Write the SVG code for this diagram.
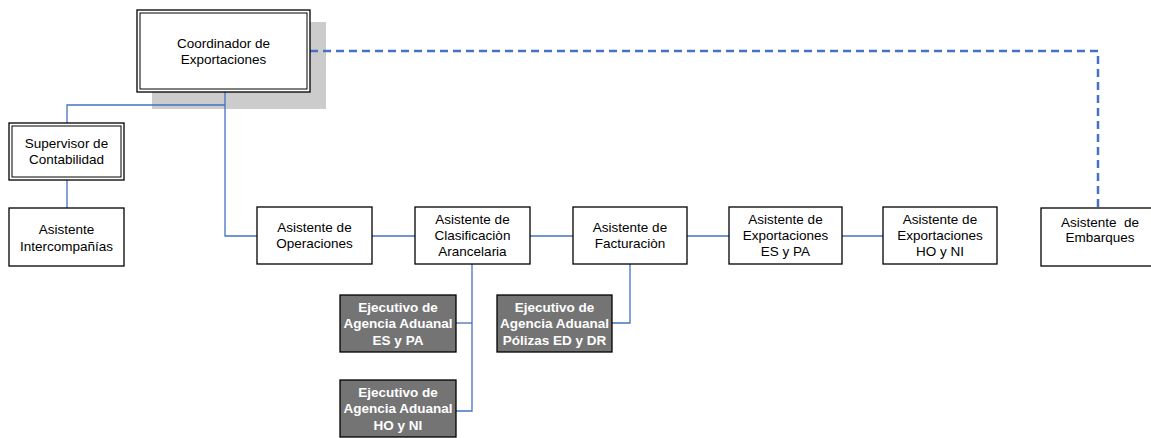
<svg xmlns="http://www.w3.org/2000/svg" width="1151" height="438" viewBox="0 0 1151 438">
  <style>
    .box { fill: #ffffff; stroke: #000000; stroke-width: 1.3; }
    .inner { fill: none; stroke: #000000; stroke-width: 1; }
    .dark { fill: #747474; stroke: #000000; stroke-width: 1.3; }
    .shadow { fill: #cccccc; }
    .lbl { font-family: "Liberation Sans", Arial, sans-serif; font-size: 13.5px; fill: #000000; text-anchor: middle; }
    .lblw { font-family: "Liberation Sans", Arial, sans-serif; font-size: 13.5px; font-weight: bold; fill: #ffffff; text-anchor: middle; }
    .conn { fill: none; stroke: #4472C4; stroke-width: 1.3; }
    .dash { fill: none; stroke: #4472C4; stroke-width: 2.5; stroke-dasharray: 8 5; }
  </style>
  <rect width="1151" height="438" fill="#ffffff"/>

  <!-- shadow behind the top box -->
  <rect class="shadow" x="152" y="22" width="174" height="87"/>

  <g id="connectors">
    <polyline class="dash" points="310,51 1098,51 1098,208"/>
    <polyline class="conn" points="225,92 225,236 257,236"/>
    <polyline class="conn" points="225,105 67,105 67,123"/>
    <line class="conn" x1="67" y1="180" x2="67" y2="208"/>
    <line class="conn" x1="372" y1="236" x2="415" y2="236"/>
    <line class="conn" x1="530" y1="236" x2="573" y2="236"/>
    <line class="conn" x1="687" y1="236" x2="729" y2="236"/>
    <line class="conn" x1="842" y1="236" x2="883" y2="236"/>
    <polyline class="conn" points="472,264 472,411 456,411"/>
    <line class="conn" x1="456" y1="323" x2="472" y2="323"/>
    <polyline class="conn" points="630,264 630,323 612,323"/>
  </g>

  <g id="coordinador">
    <rect class="box" x="137" y="10" width="173" height="82"/>
    <rect class="inner" x="140" y="13" width="167" height="76"/>
    <text class="lbl" x="223.5" y="47.5">Coordinador de</text>
    <text class="lbl" x="223.5" y="63.5">Exportaciones</text>
  </g>

  <g id="supervisor">
    <rect class="box" x="9" y="123" width="115" height="57"/>
    <rect class="inner" x="12" y="126" width="109" height="51"/>
    <text class="lbl" x="66.5" y="147.5">Supervisor de</text>
    <text class="lbl" x="66.5" y="163.5">Contabilidad</text>
  </g>

  <g id="intercompanias">
    <rect class="box" x="9" y="208" width="115" height="58"/>
    <text class="lbl" x="66.5" y="234">Asistente</text>
    <text class="lbl" x="66.5" y="250.5">Intercompañías</text>
  </g>

  <g id="operaciones">
    <rect class="box" x="257" y="207" width="115" height="57"/>
    <text class="lbl" x="314.5" y="232">Asistente de</text>
    <text class="lbl" x="314.5" y="248">Operaciones</text>
  </g>

  <g id="clasificacion">
    <rect class="box" x="415" y="207" width="115" height="57"/>
    <text class="lbl" x="472.5" y="224">Asistente de</text>
    <text class="lbl" x="472.5" y="240">Clasificaciòn</text>
    <text class="lbl" x="472.5" y="256">Arancelaria</text>
  </g>

  <g id="facturacion">
    <rect class="box" x="573" y="207" width="114" height="57"/>
    <text class="lbl" x="630" y="232">Asistente de</text>
    <text class="lbl" x="630" y="248">Facturaciòn</text>
  </g>

  <g id="exportaciones-es-pa">
    <rect class="box" x="729" y="207" width="113" height="57"/>
    <text class="lbl" x="785.5" y="224">Asistente de</text>
    <text class="lbl" x="785.5" y="240">Exportaciones</text>
    <text class="lbl" x="785.5" y="256">ES y PA</text>
  </g>

  <g id="exportaciones-ho-ni">
    <rect class="box" x="883" y="207" width="114" height="57"/>
    <text class="lbl" x="940" y="224">Asistente de</text>
    <text class="lbl" x="940" y="240">Exportaciones</text>
    <text class="lbl" x="940" y="256">HO y NI</text>
  </g>

  <g id="embarques">
    <rect class="box" x="1041" y="208" width="118" height="58"/>
    <text class="lbl" x="1100" y="226.5" xml:space="preserve">Asistente  de</text>
    <text class="lbl" x="1100" y="242">Embarques</text>
  </g>

  <g id="ejecutivo-es-pa">
    <rect class="dark" x="340" y="295" width="116" height="57"/>
    <text class="lblw" x="398" y="311.5">Ejecutivo de</text>
    <text class="lblw" x="398" y="328">Agencia Aduanal</text>
    <text class="lblw" x="398" y="344.5">ES y PA</text>
  </g>

  <g id="ejecutivo-polizas">
    <rect class="dark" x="497" y="295" width="115" height="57"/>
    <text class="lblw" x="554.5" y="311.5">Ejecutivo de</text>
    <text class="lblw" x="554.5" y="328">Agencia Aduanal</text>
    <text class="lblw" x="554.5" y="344.5">Pólizas ED y DR</text>
  </g>

  <g id="ejecutivo-ho-ni">
    <rect class="dark" x="340" y="380" width="116" height="57"/>
    <text class="lblw" x="398" y="396.5">Ejecutivo de</text>
    <text class="lblw" x="398" y="413">Agencia Aduanal</text>
    <text class="lblw" x="398" y="429.5">HO y NI</text>
  </g>
</svg>
